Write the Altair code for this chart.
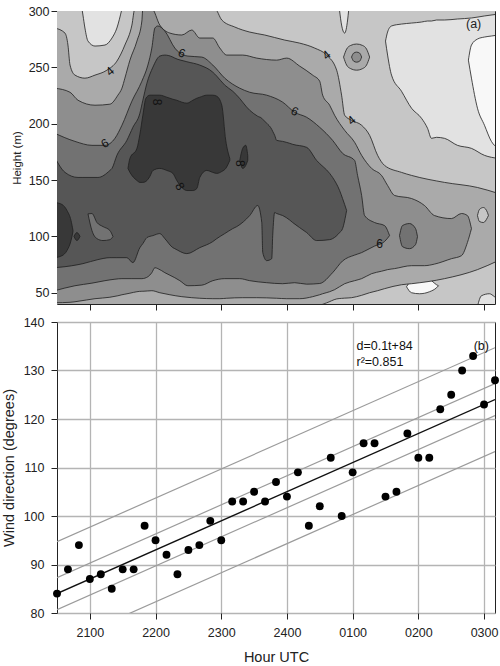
import altair as alt
import pandas as pd

FONT = "Liberation Sans"
LINE = "#1e1e1e"

# ---------------------------------------------------------------
# Shared time axis: minutes after 20:30 UTC (20:30 -> 03:10)
# ---------------------------------------------------------------
T_END = 400
hour_ticks = [30, 90, 150, 210, 270, 330, 390]
hour_labels = ["2100", "2200", "2300", "2400", "0100", "0200", "0300"]
label_expr = " : ".join(
    f"datum.value == {v} ? '{l}'" for v, l in zip(hour_ticks, hour_labels)
) + " : ''"

# ---------------------------------------------------------------
# Panel (a): wind-speed contour bands (m/s), height (m) vs time.
# Each band is given by its upper and lower contour heights.
# ---------------------------------------------------------------
shade = {0: "#f8f8f8", 1: "#e2e2e2", 2: "#c6c6c6", 3: "#aaaaaa",
         4: "#8e8e8e", 5: "#727272", 6: "#565656", 7: "#383838"}

# speed >= 4
s4_t = [-2, 7.3, 10, 11.9, 16.4, 25.5, 34.7, 45.6, 54.7, 62, 68.4, 71.1, 144.1, 150.5,
        162.3, 176, 189.7, 207.9, 221.6, 235.3, 246.2, 255.4, 259.9, 262.7, 269, 278.2,
        285.5, 292.8, 299.1, 314.6, 323.8, 353.9, 384, 403]
s4_top = [284.9, 280.4, 269.8, 252, 243.1, 240.4, 243.1, 247.5, 255.5, 269.8, 287.5, 302,
          302, 292, 285.8, 281.3, 278.7, 274.2, 271.5, 267.1, 260.9, 247.5, 225.3, 207.5,
          203, 198.6, 189.7, 171.9, 163, 156.8, 154.1, 147.9, 143.4, 138.1]
s4_bot = [38, 38, 38, 38, 38, 38, 38, 38, 38, 38, 38, 38, 38, 38, 38, 38, 38, 38, 38, 38,
          41, 44.5, 45, 45.2, 45.6, 47.7, 50, 51.8, 53.6, 57.1, 58, 62.5, 70.5, 78.5]

# speed >= 5
s5_t = [-2, 11.9, 19.2, 34.7, 48.3, 55.6, 59.3, 62, 66.6, 73, 77.5, 78.4, 86.6, 93.9, 103.1,
        114, 123.1, 130.4, 142.3, 148.7, 155, 169.6, 182.4, 200.6, 209.8, 221.6, 233.5,
        239.9, 242.6, 249, 253.5, 262.7, 271.8, 278.2, 287.3, 296.4, 301.9, 308.3, 323.8,
        335.6, 344.7, 360.2, 369.4, 374.8, 378.5]
s5_top = [231.5, 227.9, 220.8, 216.4, 217.3, 225.3, 231.5, 240.4, 256.4, 273.3, 291.1, 302,
          302, 287.5, 280.4, 278.7, 283.1, 276, 276, 267.1, 260.9, 260.9, 258.2, 256.4,
          258.2, 251.1, 243.1, 237.7, 225.3, 216.4, 207.5, 194.1, 183.5, 171.9, 160.3,
          154.1, 145.2, 136.3, 133.6, 127.4, 118.5, 115.8, 120.3, 118.5, 106.9]
s5_bot = [41.1, 41.5, 42.4, 44.7, 46, 47.3, 48.2, 48.7, 49.6, 50.9, 51.3, 51.3, 51.8, 50,
          48.2, 46.5, 45.6, 45.1, 44.7, 44.7, 45.1, 45.6, 45.6, 45.1, 44.7, 44.7, 46.5,
          48.2, 49.1, 50.9, 52.7, 58, 60.7, 62.5, 66.9, 69.1, 70.5, 71.4, 74, 74, 75.4,
          80.2, 82.9, 94.5, 106.9]

# speed >= 6
s6_t = [-2, 16.4, 31.9, 43.8, 52.9, 59.3, 68.4, 77.5, 83, 86.6, 89.4, 92.1, 98.5, 107.6,
        112.2, 119.5, 132.2, 142.3, 153.2, 166.9, 176, 191.5, 206.1, 217.1, 228, 239.9,
        251.7, 260.8, 271.8, 274.5, 278.2, 280.9, 290, 299.1, 303.7]
s6_top = [191.5, 184.3, 180.8, 180.8, 187, 198.6, 220, 237.7, 252, 267.1, 284.9, 286.7,
          282.2, 267.1, 262.6, 260, 259.1, 252, 240.4, 231.5, 227.9, 225.3, 219.1, 210.1,
          205.7, 196.8, 185.2, 173.7, 167.4, 154.1, 136.3, 118.5, 112.3, 109.6, 100.7]
s6_bot = [51.8, 56.2, 58.5, 60.7, 62, 62.5, 62.5, 62.5, 64.2, 67.8, 72.2, 71.4, 67.8, 63.3,
          60.7, 56.2, 56.7, 60.7, 62.5, 62.5, 60.7, 58.9, 58, 58.9, 57.6, 58.2, 67.8, 78.2,
          83.4, 84.3, 85.6, 86.9, 91.4, 95.4, 100.7]

# speed >= 7
s7_t = [-2, 7.3, 19.2, 23.7, 37.4, 48.3, 50.2, 54.7, 63.8, 69.3, 75.7, 78.4, 82.1, 87.6,
        93.9, 98.5, 105.8, 107.6, 118.6, 130.4, 142.3, 145.9, 153.2, 160.5, 164.2, 176,
        183.3, 187, 187.9, 191.5, 196.1, 197, 198.8, 200.6, 206.1, 212.5, 215.2, 228,
        237.1, 249, 251.7, 258.1, 260.8, 264.5]
s7_top = [170.1, 156.8, 152.3, 152.3, 152.3, 158.5, 160.3, 171.9, 185.2, 196.8, 209.3,
          220.8, 235.9, 250.2, 260, 260.9, 259.1, 258.2, 255, 252, 245.7, 242.2, 234.2,
          228.8, 225.3, 211.9, 206.6, 204.8, 203.9, 200.4, 195, 193.2, 189.7, 185.2, 184.3,
          182.6, 181.7, 179, 167.4, 155.9, 152.3, 140.7, 133.6, 123]
s7_bot = [72.2, 73.1, 74.9, 75.8, 79.4, 81.1, 81.1, 81.1, 81.1, 76.7, 90, 93.6, 98.9, 100.7,
          102.5, 98, 90, 89.1, 84.7, 90, 95.4, 98, 102.5, 106.9, 108.7, 118.5, 127.4, 112.3,
          85.6, 78.5, 80.2, 100.7, 121.2, 120.3, 118.5, 114.5, 112.3, 103.4, 96.3, 97.1, 98,
          103.4, 106.9, 123]

# speed >= 8: main core, surface-left core, two small cells
s8_t = [64.8, 66.6, 73, 75.7, 78.4, 81.2, 84.8, 87.6, 93.9, 100.3, 105.8, 109.4, 114, 118.6,
        124.1, 127.7, 130.4, 136.8, 142.3, 145.9, 150.5, 154.1, 157.8]
s8_top = [160.3, 169.2, 178.1, 190.6, 207.5, 222.6, 225.3, 225.3, 225.3, 223.5, 221.7,
          220.8, 219.1, 218.2, 220.8, 222.6, 223.5, 225.3, 225.3, 224.4, 216.4, 185.2, 169.2]
s8_bot = [160.3, 156.8, 149.6, 147.9, 147.9, 148.8, 153.2, 158.5, 160.3, 158.5, 155.9,
          149.6, 143.4, 140.7, 140.7, 142.5, 152.3, 158.5, 156.8, 155.9, 157.6, 160.3, 167.4]
s8b_t = [-2, 4.6, 9.1, 12.8, 14.6]
s8b_top = [130.1, 128.3, 123, 114.1, 105.2]
s8b_bot = [81.1, 82.9, 87.4, 96.3, 104.3]
s8c_t = [166.9, 169.6, 172.4, 174.2]
s8c_top = [167.4, 178.1, 180.8, 171.9]
s8c_bot = [167.4, 160.3, 163, 167.4]
s8d_t = [15.5, 18.2, 21]
s8d_top = [100, 103.4, 100]
s8d_bot = [100, 96.3, 100]

# weaker pockets and isolated cells
p6_t = [28.3, 31.9, 36.5, 42, 48.3, 51.1]          # 6-7 pocket inside the 7+ layer
p6_top = [120, 120.3, 112.3, 108.7, 105.2, 99.8]
p6_bot = [120, 105.2, 98, 96.3, 97.1, 99.8]
c6_t = [312.8, 315.5, 321.9, 327.4, 329.2]           # 6-7 cell, lower right
c6_top = [100.7, 109.6, 111.4, 107, 99.8]
c6_bot = [100.7, 90.9, 89.1, 92.7, 99.8]
ring4_t = [261.7, 264.5, 268.1, 273.6, 279.1, 282.7, 285.5]   # ring near 0100, 260 m
ring4_top = [259.1, 266.2, 269.4, 270.7, 269.4, 266.2, 259.1]
ring4_bot = [259.1, 252, 248.9, 247.5, 248.9, 252, 259.1]
ring5_t = [269, 270.9, 273.6, 276.4, 278.2]
ring5_top = [259.1, 262.6, 263.5, 262.6, 259.1]
ring5_bot = [259.1, 255.5, 254.6, 255.5, 259.1]
hole3_t = [384, 385.8, 389.4, 393.1, 394]            # 3-4 hole, right side
hole3_top = [118.5, 123.9, 125.6, 121.2, 118.5]
hole3_bot = [118.5, 113.2, 112.3, 116.7, 118.5]

# speed < 3 and < 2 areas
w3a_t = [22.8, 23.7, 25.5, 28.3, 34.7, 43.8, 50.2, 54.7, 59.3]
w3a_top = [302, 302, 302, 302, 302, 302, 302, 302, 302]
w3a_bot = [302, 296.4, 284.9, 273.3, 268.9, 269.8, 276, 284.9, 302]
w3b_t = [258.1, 259.9, 262.7, 265.4, 266.3]
w3b_top = [302, 302, 302, 302, 302]
w3b_bot = [300, 287.5, 280.4, 292, 300]
w3c_t = [300, 301.9, 305.5, 314.6, 323.8, 332.9, 338.4, 342, 346.6, 353.9, 365.7, 378.5,
         390.4, 403]
w3c_top = [273.3, 281.3, 286.7, 288.4, 289.3, 290.2, 291.1, 291.1, 292, 292, 292.9, 293.8,
           295.6, 297.3]
w3c_bot = [273.3, 260.9, 243.1, 228.8, 213.7, 204.8, 195.9, 187, 187.9, 187, 180.8, 178.1,
           171.9, 169.2]
w3d_t = [384, 387.6, 394.9, 399.5, 403]
w3d_top = [38, 47.3, 49.1, 46.5, 43.8]
w3d_bot = [38, 38, 38, 38, 38]
w2a_t = [375.7, 378.5, 384, 390.4, 396.7, 403]
w2a_top = [256.4, 269.8, 275.1, 276.9, 277.8, 278.7]
w2a_bot = [256.4, 240.4, 213.7, 198.6, 184.3, 178.1]
w2b_t = [319.2, 323.8, 331.1, 340.2, 346.6, 348.4]
w2b_top = [55.3, 60.7, 62.5, 61.6, 57.1, 56.2]
w2b_bot = [55.3, 50, 49.1, 50.9, 54.4, 56.2]

# contour labels
clab_t = [48.3, 43.8, 91.2, 114, 246.2, 217.1, 269, 112.2, 166.9, 294.6]
clab_h = [246.6, 182.6, 219.1, 262.6, 260.9, 211, 203, 144.3, 164.8, 93.6]
clab_txt = ["4", "6", "8", "6", "4", "6", "4", "8", "8", "6"]
clab_ang = [320, 330, 90, 20, 320, 25, 320, 60, 90, 0]

height_ticks = [50, 100, 150, 200, 250, 300]

# ---------------------------------------------------------------
# Panel (b): wind direction every 10 min with linear fit
# ---------------------------------------------------------------
obs_minutes = list(range(0, 401, 10))
wind_dir = [84, 89, 94, 87, 88, 85, 89, 89, 98, 95, 92, 88, 93, 94, 99, 95, 103, 103,
            105, 103, 107, 104, 109, 98, 102, 112, 100, 109, 115, 115, 104, 105, 117,
            112, 112, 122, 125, 130, 133, 123, 128]
fit_slope = 0.1
fit_intercept = 84
fit_r2 = 0.851
inner_band = 3.3
outer_band = 10.7
dir_ticks = [80, 90, 100, 110, 120, 130, 140]

W = 438
HA = 293
HB = 291

xs = alt.Scale(domain=[0, T_END], nice=False, zero=False)
ys_a = alt.Scale(domain=[40, 300], nice=False, zero=False)
ys_b = alt.Scale(domain=[80, 140], nice=False, zero=False)

# axes shared by every layer of a panel (identical definitions merge cleanly)
ax_xa = alt.Axis(values=hour_ticks, labels=False, ticks=True, tickSize=6, domain=False,
                 grid=False, title=None)
ax_ya = alt.Axis(values=height_ticks, title="Height (m)", tickSize=6, labelPadding=2,
                 domain=False, grid=False, labelFontSize=12.5, titleFontSize=11.5,
                 titleX=-35)
ax_xb = alt.Axis(values=hour_ticks, labelExpr=label_expr, title="Hour UTC", grid=True,
                 tickSize=6, labelPadding=7, titlePadding=12, domain=False,
                 labelFontSize=12.5, titleFontSize=14.5)
ax_yb = alt.Axis(values=dir_ticks, title="Wind direction (degrees)", grid=True, tickSize=6,
                 labelPadding=7, domain=False, labelFontSize=12.5, titleFontSize=14.5,
                 titleX=-41)


def xa(field):
    return alt.X(field, type="quantitative", scale=xs, axis=ax_xa)


def ya(field):
    return alt.Y(field, type="quantitative", scale=ys_a, axis=ax_ya)


def band(t, top, bot, level):
    df = pd.DataFrame({"t": t, "top": top, "bot": bot})
    return alt.Chart(df).mark_area(
        fill=shade[level], stroke=LINE, strokeWidth=0.8, interpolate="monotone",
        orient="vertical", clip=True
    ).encode(x=xa("t"), y=ya("top"), y2="bot:Q")


base = alt.Chart(pd.DataFrame({"t": [0], "t2": [T_END], "top": [300], "bot": [40]})).mark_rect(
    fill=shade[2]
).encode(x=xa("t"), x2="t2:Q", y=ya("top"), y2="bot:Q")

labels_a = alt.Chart(pd.DataFrame({"t": clab_t, "top": clab_h, "txt": clab_txt,
                                   "ang": clab_ang})).mark_text(
    font=FONT, fontSize=12, color="#111111"
).encode(x=xa("t"), y=ya("top"), text="txt:N", angle=alt.Angle("ang:Q", scale=None))

tag_a = alt.Chart(pd.DataFrame({"t": [380.5], "top": [288.5], "txt": ["(a)"]})).mark_text(
    font=FONT, fontSize=12.5, color="#222222"
).encode(x=xa("t"), y=ya("top"), text="txt:N")

panel_a = alt.layer(
    base,
    band(w3a_t, w3a_top, w3a_bot, 1),
    band(w3b_t, w3b_top, w3b_bot, 1),
    band(w3c_t, w3c_top, w3c_bot, 1),
    band(w3d_t, w3d_top, w3d_bot, 1),
    band(w2a_t, w2a_top, w2a_bot, 0),
    band(w2b_t, w2b_top, w2b_bot, 0),
    band(s4_t, s4_top, s4_bot, 3),
    band(hole3_t, hole3_top, hole3_bot, 2),
    band(ring4_t, ring4_top, ring4_bot, 3),
    band(ring5_t, ring5_top, ring5_bot, 4),
    band(s5_t, s5_top, s5_bot, 4),
    band(s6_t, s6_top, s6_bot, 5),
    band(c6_t, c6_top, c6_bot, 5),
    band(s7_t, s7_top, s7_bot, 6),
    band(p6_t, p6_top, p6_bot, 5),
    band(s8_t, s8_top, s8_bot, 7),
    band(s8b_t, s8b_top, s8b_bot, 7),
    band(s8c_t, s8c_top, s8c_bot, 7),
    band(s8d_t, s8d_top, s8d_bot, 7),
    labels_a,
    tag_a,
).properties(width=W, height=HA)

# ---------------- panel (b) ----------------
obs = pd.DataFrame({"t": obs_minutes, "d": wind_dir})

fit_rows = []
for name, off in [("fit", 0.0), ("ci_hi", inner_band), ("ci_lo", -inner_band),
                  ("pi_hi", outer_band), ("pi_lo", -outer_band)]:
    for t in (0, T_END):
        fit_rows.append({"t": t, "d": fit_intercept + fit_slope * t + off, "line": name})
fits = pd.DataFrame(fit_rows)

xb = alt.X("t:Q", scale=xs, axis=ax_xb)
yb = alt.Y("d:Q", scale=ys_b, axis=ax_yb)

bands_b = alt.Chart(fits).transform_filter("datum.line != 'fit'").mark_line(
    color="#9b9b9b", strokeWidth=1.2, clip=True
).encode(x=xb, y=yb, detail="line:N")

fit_b = alt.Chart(fits).transform_filter("datum.line == 'fit'").mark_line(
    color="#111111", strokeWidth=1.4, clip=True
).encode(x=xb, y=yb)

pts_b = alt.Chart(obs).mark_circle(size=62, color="black", opacity=1).encode(x=xb, y=yb)

notes = pd.DataFrame({
    "t": [273.5, 273.5, 380.5],
    "d": [135.1, 131.8, 135.1],
    "txt": [f"d={fit_slope}t+{fit_intercept}", f"r\u00b2={fit_r2}", "(b)"],
})
text_b = alt.Chart(notes).mark_text(font=FONT, fontSize=12.5, align="left",
                                    color="#111111").encode(x=xb, y=yb, text="txt:N")

panel_b = alt.layer(bands_b, fit_b, pts_b, text_b).properties(width=W, height=HB)

chart = alt.vconcat(panel_a, panel_b, spacing=4).properties(
    padding={"left": 0, "top": 4, "right": 0, "bottom": 0}
).configure(font=FONT).configure_view(
    stroke="#222222", strokeWidth=1
).configure_axis(
    labelFont=FONT, titleFont=FONT, labelColor="#222222", titleColor="#222222",
    tickColor="#222222", titleFontWeight="normal", gridColor="#b4b4b4", gridWidth=1.3,
)

chart.save("out.html", embed_options={"renderer": "svg", "actions": False})
